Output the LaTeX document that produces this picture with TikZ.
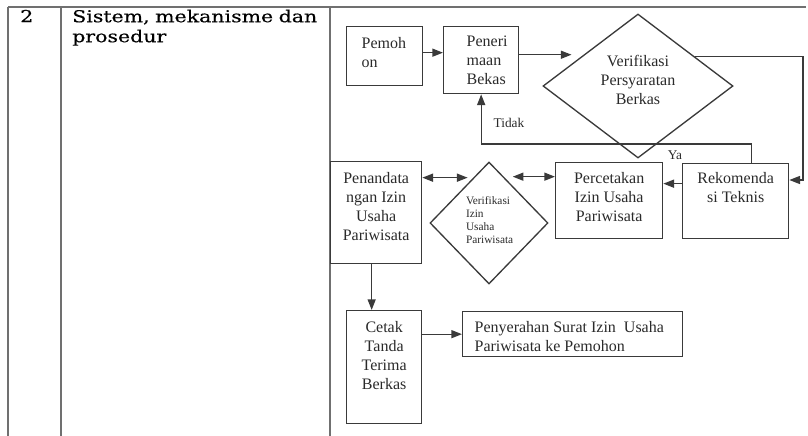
\documentclass[tikz,border=0pt]{standalone}
\usepackage{fontspec}
\setmainfont{Liberation Serif}
\newfontfamily\colfont[FakeStretch=1.25,FakeBold=0.4]{DejaVu Serif}
\usetikzlibrary{shapes.geometric,arrows.meta,calc}
\definecolor{ln}{HTML}{3A3A3A}
\definecolor{tb}{HTML}{707070}
\definecolor{txt}{HTML}{2A2A2A}
\newdimen\px \px=0.75pt
\newcommand{\bxt}[5]{\parbox[c][#2\px][t]{#1\px}{#3\vspace*{#4\px}\strut #5}}
\newcommand{\ztext}[1]{\makebox[0pt]{\smash{#1}}}
\begin{document}
\begin{tikzpicture}[x=0.75pt,y=-0.75pt,
  every node/.style={text=txt},
  box/.style={draw=ln, line width=1pt, inner sep=0pt, anchor=north west, font=\fontsize{12pt}{14.25pt}\selectfont},
  dia/.style={draw=ln, line width=1pt, shape=diamond, inner sep=0pt},
  arr/.style={draw=ln, line width=1pt, -{Triangle[length=8pt,width=6pt]}},
  darr/.style={draw=ln, line width=1pt, {Triangle[length=8pt,width=6pt]}-{Triangle[length=8pt,width=6pt]}},
  tbl/.style={draw=tb, line width=1.1pt},
  lbl/.style={font=\fontsize{10pt}{12pt}\selectfont, inner sep=0pt}]

\useasboundingbox (0,0) rectangle (808,436);

% table rules
\draw[tbl] (8,7) -- (806,7);
\draw[tbl] (8,7) -- (8,436);
\draw[tbl] (61,7) -- (61,436);
\draw[tbl] (330,7) -- (330,436);

% left column
\node[anchor=base west, inner sep=0pt, text=black, font=\colfont\fontsize{12.3pt}{15pt}\selectfont] (num) at (20,22) {2};
\node[anchor=north west, inner sep=0pt, text=black, text width=200pt, align=left, font=\colfont\fontsize{12.3pt}{15pt}\selectfont] (hdr) at (72,9.5) {Sistem, mekanisme dan\\prosedur};

% flowchart boxes
\node[box] (pem) at (346,26) {\bxt{76}{59}{\raggedright\leftskip=15\px}{8.3}{Pemoh\\on}};
\node[box] (pen) at (443,26) {\bxt{75}{67}{\raggedright\leftskip=23\px}{6.3}{Peneri\\maan\\Bekas}};
\node[box] (rek) at (682,163) {\bxt{106}{75}{\centering}{6.3}{Rekomenda\\si Teknis}};
\node[box] (per) at (555,162) {\bxt{107}{76}{\centering}{7.3}{Percetakan\\Izin Usaha\\Pariwisata}};
\node[box] (pnd) at (330,161) {\bxt{91}{102}{\centering}{8.3}{Penandata\\ngan Izin\\Usaha\\Pariwisata}};
\node[box] (cet) at (346,310) {\bxt{75}{113}{\centering}{8.3}{Cetak\\Tanda\\Terima\\Berkas}};
\node[box] (pny) at (462,311) {\bxt{220}{45}{\raggedright\leftskip=12\px}{7.3}{Penyerahan Surat Izin~ Usaha\\Pariwisata ke Pemohon}};

% diamonds
\node[dia, minimum width=142.5pt, minimum height=108pt, font=\fontsize{12pt}{14.25pt}\selectfont] (ver) at (638,86)
  {\ztext{\parbox{80\px}{\centering\strut Verifikasi\\Persyaratan\\Berkas\strut}}};
\node[dia, minimum width=88.5pt, minimum height=91.5pt, font=\fontsize{8.5pt}{9.75pt}\selectfont] (viz) at (489,223)
  {\ztext{\parbox{46\px}{\raggedright Verifikasi\\Izin\\Usaha\\Pariwisata}}};

% helper coordinates
\coordinate (p1) at ($(pem.east)+(0,-3.5)$);
\coordinate (p2) at ($(ver.west)!0.4306!(ver.north)$);
\coordinate (p3) at ($(ver.north)!0.597!(ver.east)$);
\coordinate (r1) at (803,180);
\coordinate (t0) at ($(rek.north)+(16,0)$);
\coordinate (t1) at (0,144);
\coordinate (b1) at ($(rek.west)+(0,-17.5)$);
\coordinate (b2) at ($(per.west)+(0,-24)$);
\coordinate (v1) at ($(viz.north)!0.23!(viz.east)$);
\coordinate (b3) at ($(pnd.east)+(0,-35)$);
\coordinate (v2) at ($(viz.west)!0.754!(viz.north)$);
\coordinate (b4) at ($(pnd.south)+(-4.5,0)$);

% connectors
\draw[arr] (p1) -- (p1 -| pen.west);
\draw[arr, shorten >=9pt] (p2 -| pen.east) -- (p2);
\draw[arr] (p3) -| (r1) -- (r1 -| rek.east);
\draw[arr] (t0) |- (pen.south |- t1) -- (pen.south);
\draw[arr] (b1) -- (b1 -| per.east);
\draw[darr, shorten >=7.5pt] (b2) -- (b2 -| v1);
\draw[darr, shorten >=5pt] (b3) -- (b3 -| v2);
\draw[arr] (b4) -- (b4 |- cet.north);
\draw[arr] (cet.east |- pny.west) -- (pny.west);

% labels
\node[lbl] (tidak) at (509,123) {Tidak};
\node[lbl] (ya) at (675,155) {Ya};
\end{tikzpicture}
\end{document}
